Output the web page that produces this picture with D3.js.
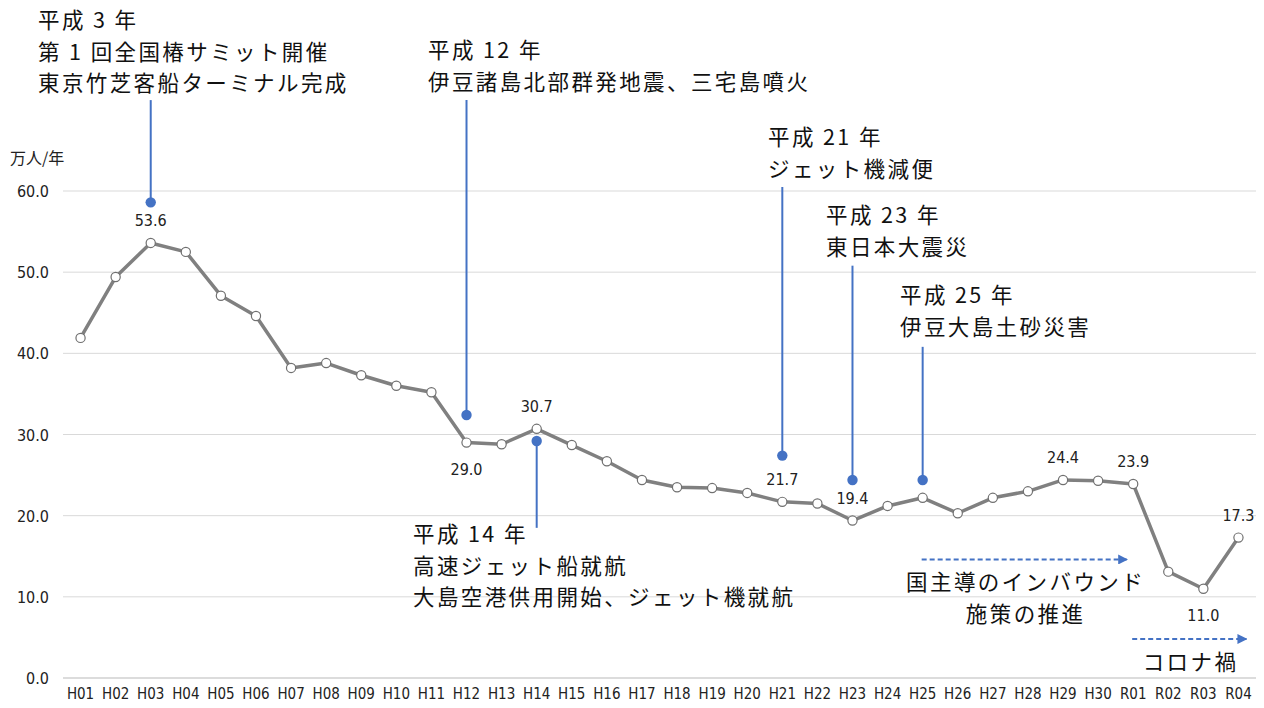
<!DOCTYPE html>
<html><head><meta charset="utf-8">
<script src="https://cdn.jsdelivr.net/npm/d3@7"></script>
<style>
html,body{margin:0;padding:0;background:#fff;}
svg{display:block;}
.num{font-family:"DejaVu Sans Condensed","DejaVu Sans",sans-serif;font-stretch:condensed;}
.jp{font-family:"Noto Sans CJK JP","Noto Sans",sans-serif;}
</style></head>
<body>
<svg id="c" width="1264" height="708"></svg>
<script>
const categories = ["H01","H02","H03","H04","H05","H06","H07","H08","H09","H10","H11","H12","H13","H14","H15","H16","H17","H18","H19","H20","H21","H22","H23","H24","H25","H26","H27","H28","H29","H30","R01","R02","R03","R04"];
const visitors = [41.9,49.4,53.6,52.5,47.1,44.6,38.2,38.8,37.3,36.0,35.2,29.0,28.8,30.7,28.7,26.7,24.4,23.5,23.4,22.8,21.7,21.5,19.4,21.2,22.2,20.3,22.2,23.0,24.4,24.3,23.9,13.1,11.0,17.3];
const yTicks = [0,10,20,30,40,50,60];
const labelled = [
  {cat:"H03", pos:"above"},{cat:"H12", pos:"below"},{cat:"H14", pos:"above"},
  {cat:"H21", pos:"above"},{cat:"H23", pos:"above"},{cat:"H29", pos:"above"},
  {cat:"R01", pos:"above"},{cat:"R03", pos:"below"},{cat:"R04", pos:"above"}
];
const events = [
  {cat:"H03", lines:["平成 3 年","第 1 回全国椿サミット開催","東京竹芝客船ターミナル完成"], dot:58.6, lineEnd:71.2, textX:38, textY:28},
  {cat:"H12", lines:["平成 12 年","伊豆諸島北部群発地震、三宅島噴火"], dot:32.4, lineEnd:71.2, textX:428, textY:58},
  {cat:"H14", lines:["平成 14 年","高速ジェット船就航","大島空港供用開始、ジェット機就航"], dot:29.2, lineEnd:18.5, textX:413, textY:542},
  {cat:"H21", lines:["平成 21 年","ジェット機減便"], dot:27.4, lineEnd:60.5, textX:768, textY:145},
  {cat:"H23", lines:["平成 23 年","東日本大震災"], dot:24.4, lineEnd:50.8, textX:826, textY:223},
  {cat:"H25", lines:["平成 25 年","伊豆大島土砂災害"], dot:24.4, lineEnd:40.8, textX:900, textY:303}
];
const periods = [
  {from:"H25", to:"R01", arrowY:14.6, lines:["国主導のインバウンド","施策の推進"]},
  {from:"R01", to:"R04", arrowY:4.8, lines:["コロナ禍"]}
];

const svg = d3.select("#c");
const x = d3.scaleBand().domain(categories).range([63,1256]).paddingInner(0).paddingOuter(0);
const y = d3.scaleLinear().domain([0,60]).range([678,191]);
const cx = c => x(c) + x.bandwidth()/2;

svg.append("g").selectAll("line").data(yTicks).join("line")
  .attr("x1",63).attr("x2",1256).attr("y1",d=>y(d)).attr("y2",d=>y(d))
  .attr("stroke",d=>d===0?"#d0d0d0":"#d9d9d9").attr("stroke-width",d=>d===0?1.5:1);

svg.append("g").selectAll("text").data(yTicks).join("text").attr("class","num")
  .attr("x",49).attr("y",d=>y(d)+6).attr("text-anchor","end")
  .attr("font-size",16).attr("fill","#222").text(d=>d.toFixed(1));
svg.append("text").attr("class","jp").attr("x",10).attr("y",164).attr("font-size",16).attr("fill","#222").text("万人/年");

const xAxis = d3.axisBottom(x).tickSize(0).tickPadding(0);
const gx = svg.append("g").attr("transform","translate(0,688)").call(xAxis);
gx.select(".domain").remove();
gx.attr("font-family",null);
gx.selectAll("text").attr("class","num").attr("font-size",15).attr("fill","#222").attr("dy","0.71em");

const line = d3.line().x((d,i)=>cx(categories[i])).y(d=>y(d));
svg.append("path").datum(visitors).attr("d",line).attr("fill","none")
  .attr("stroke","#808080").attr("stroke-width",3.5).attr("stroke-linejoin","round");
svg.append("g").selectAll("circle").data(visitors).join("circle")
  .attr("cx",(d,i)=>cx(categories[i])).attr("cy",d=>y(d)).attr("r",4.6)
  .attr("fill","#fff").attr("stroke","#707070").attr("stroke-width",1.2);

svg.append("g").selectAll("text").data(labelled).join("text").attr("class","num")
  .attr("x",d=>cx(d.cat)).attr("text-anchor","middle").attr("font-size",16).attr("fill","#222")
  .attr("y",d=>{const v=visitors[categories.indexOf(d.cat)];return d.pos==="above"? y(v)-17 : y(v)+32;})
  .text(d=>visitors[categories.indexOf(d.cat)].toFixed(1));

const blue = "#4472c4";
const jpSize = 21.5, jpSpacing = 2.4;
events.forEach(e=>{
  const g = svg.append("g");
  const xx = cx(e.cat);
  g.append("line").attr("x1",xx).attr("x2",xx).attr("y1",y(e.dot)).attr("y2",y(e.lineEnd))
    .attr("stroke",blue).attr("stroke-width",2);
  g.append("circle").attr("cx",xx).attr("cy",y(e.dot)).attr("r",5.2).attr("fill",blue);
  g.selectAll("text").data(e.lines).join("text").attr("class","jp")
    .attr("x",e.textX).attr("y",(d,i)=>e.textY+i*31.5).attr("font-size",jpSize)
    .attr("letter-spacing",jpSpacing).attr("fill","#111").text(d=>d);
});

svg.append("defs").append("marker").attr("id","ah").attr("viewBox","0 0 10 10")
  .attr("refX",9).attr("refY",5).attr("markerWidth",5).attr("markerHeight",5).attr("orient","auto")
  .attr("markerUnits","strokeWidth")
  .append("path").attr("d","M0,0L10,5L0,10z").attr("fill",blue);

periods.forEach((p,k)=>{
  const x1 = cx(p.from)-1, x2 = k===0 ? cx(p.to)-6 : cx(p.to)+8;
  const yy = y(p.arrowY);
  svg.append("line").attr("x1",x1).attr("x2",x2).attr("y1",yy).attr("y2",yy)
    .attr("stroke",blue).attr("stroke-width",2).attr("stroke-dasharray","5,3").attr("marker-end","url(#ah)");
  const mid = (x1+x2)/2 + jpSpacing/2;
  svg.append("g").selectAll("text").data(p.lines).join("text").attr("class","jp")
    .attr("x",mid).attr("text-anchor","middle").attr("y",(d,i)=>yy+31+i*31.5)
    .attr("font-size",jpSize).attr("letter-spacing",jpSpacing).attr("fill","#111").text(d=>d);
});
</script>
</body></html>
